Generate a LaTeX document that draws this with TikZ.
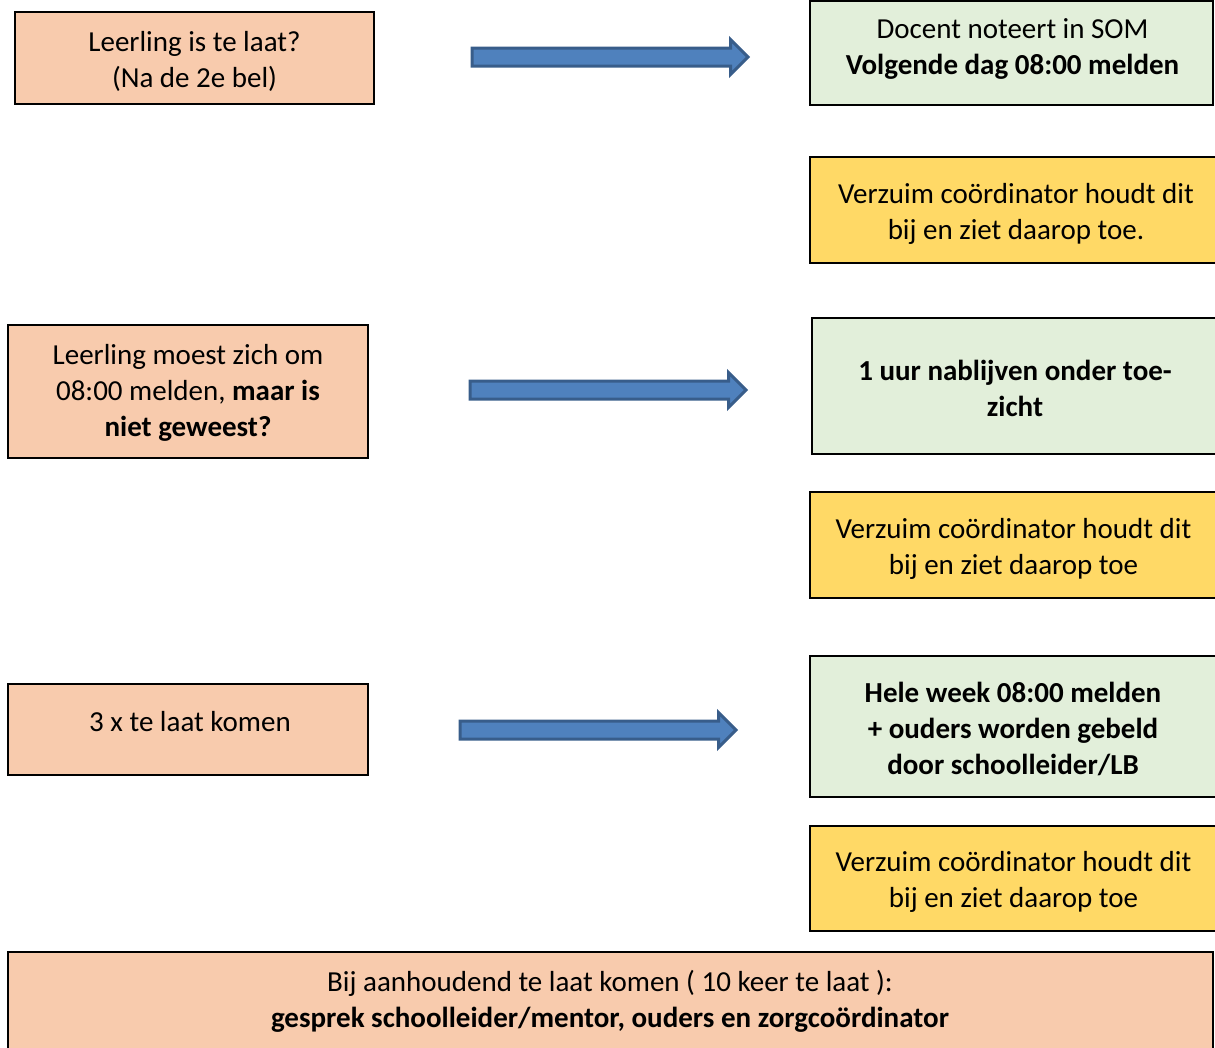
\documentclass[tikz,border=0pt]{standalone}
\usepackage{fontspec}
\setmainfont{Carlito}
\usetikzlibrary{shapes.arrows}
\definecolor{lateorange}{HTML}{F8CBAD}
\definecolor{actiongreen}{HTML}{E2EFDA}
\definecolor{watchyellow}{HTML}{FFD966}
\definecolor{arrowfill}{HTML}{4F81BD}
\definecolor{arrowedge}{HTML}{385D8A}
\begin{document}
\begin{tikzpicture}[x=1pt,y=-1pt,
  box/.style={draw=black, line width=2.5pt, rectangle, inner sep=0pt},
  casebox/.style={box, fill=lateorange},
  actionbox/.style={box, fill=actiongreen},
  watchbox/.style={box, fill=watchyellow},
  boxtext/.style={align=center, inner sep=0pt, font=\fontsize{29}{36}\selectfont},
  blockarrow/.style={single arrow, draw=arrowedge, fill=arrowfill,
    line width=3pt, inner sep=7.5pt, single arrow head extend=8.5pt,
    single arrow tip angle=90, minimum height=276pt}]
\useasboundingbox (0,0) rectangle (1215,1047);

% situations (left column)
\node[casebox, minimum width=359, minimum height=92] (late) at (194.5,58) {};
\node[boxtext] (late-t) at (194.5,61) {Leerling is te laat?\\(Na de 2e bel)};
\node[casebox, minimum width=360, minimum height=133] (absent) at (188,391.5) {};
\node[boxtext] (absent-t) at (188,392.5)
  {Leerling moest zich om\\08:00 melden, \textbf{maar is}\\\textbf{niet geweest?}};
\node[casebox, minimum width=360, minimum height=91] (thrice) at (188,729.5) {};
\node[boxtext] (thrice-t) at (190,721.5) {3 x te laat komen};

% measures (right column)
\node[actionbox, minimum width=403, minimum height=104] (som) at (1011.5,53) {};
\node[boxtext] (som-t) at (1012.5,48.5)
  {Docent noteert in SOM\\\textbf{Volgende dag 08:00 melden}};
\node[watchbox, minimum width=406, minimum height=106] (watch1) at (1013,210) {};
\node[boxtext] (watch1-t) at (1016,213.5)
  {Verzuim coördinator houdt dit\\bij en ziet daarop toe.};
\node[actionbox, minimum width=404, minimum height=136] (detention) at (1014,386) {};
\node[boxtext] (detention-t) at (1015,388.5)
  {\textbf{1 uur nablijven onder toe-}\\\textbf{zicht}};
\node[watchbox, minimum width=406, minimum height=106] (watch2) at (1013,545) {};
\node[boxtext] (watch2-t) at (1013.5,548.5)
  {Verzuim coördinator houdt dit\\bij en ziet daarop toe};
\node[actionbox, minimum width=406, minimum height=141] (week) at (1013,726.5) {};
\node[boxtext] (week-t) at (1013,729)
  {\textbf{Hele week 08:00 melden}\\\textbf{+ ouders worden gebeld}\\\textbf{door schoolleider/LB}};
\node[watchbox, minimum width=406, minimum height=105] (watch3) at (1013,878.5) {};
\node[boxtext] (watch3-t) at (1013.5,881.5)
  {Verzuim coördinator houdt dit\\bij en ziet daarop toe};

% persistent lateness
\node[casebox, minimum width=1205, minimum height=98] (persist) at (610.5,1001) {};
\node[boxtext] (persist-t) at (610,1001.5)
  {Bij aanhoudend te laat komen ( 10 keer te laat ):\\\textbf{gesprek schoolleider/mentor, ouders en zorgcoördinator}};

% block arrows from situation to measure
\node[blockarrow] (arr1) at (605.5,57) {};
\node[blockarrow] (arr2) at (603.5,390) {};
\node[blockarrow] (arr3) at (593.5,730) {};
\end{tikzpicture}
\end{document}
